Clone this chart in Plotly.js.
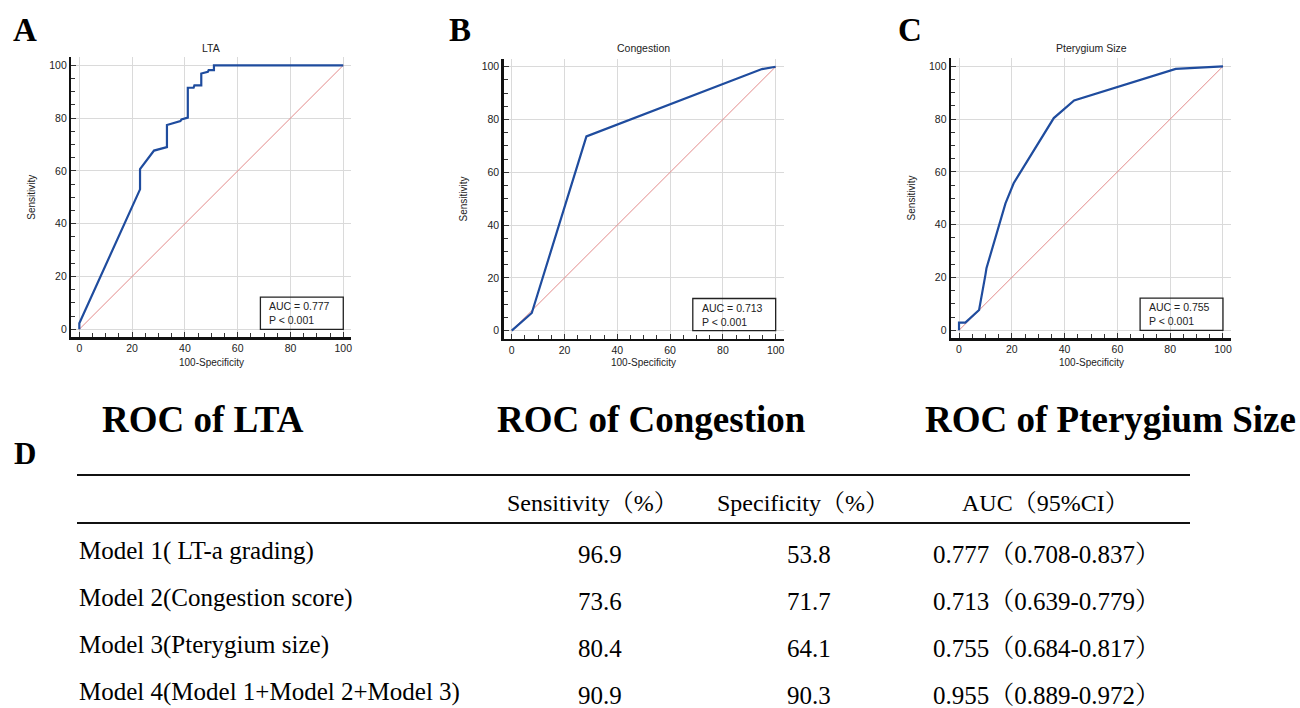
<!DOCTYPE html>
<html>
<head>
<meta charset="utf-8">
<script src="https://cdn.plot.ly/plotly-3.0.1.min.js"></script>
<style>html,body{margin:0;padding:0;background:#fff;}#chart{width:1300px;height:708px;}</style>
</head>
<body>
<div id="chart"></div>
<script>
// ---------- data ----------
const panelTitles = ['LTA', 'Congestion', 'Pterygium Size'];
const panelLetters = ['A', 'B', 'C'];
const captions = ['ROC of LTA', 'ROC of Congestion', 'ROC of Pterygium Size'];
const pText = 'P < 0.001';

// ROC curves: x = 100-Specificity, y = Sensitivity
const fprA = [0, 0, 23.0, 23.0, 28.3, 33.2, 33.2, 38.3, 38.7, 41.1, 41.1, 43.3, 43.6, 46.2, 46.2, 48.7, 49.0, 51.0, 51.0, 100];
const tprA = [0, 2.3, 53.0, 60.7, 67.7, 69.0, 77.4, 78.9, 79.5, 80.2, 91.5, 91.5, 92.4, 92.4, 96.9, 97.5, 98.2, 98.2, 100, 100];
const fprB = [0, 7.6, 28.3, 94.8, 100];
const tprB = [0, 6.7, 73.6, 99.1, 100];
const fprC = [0, 0, 2.4, 7.6, 10.0, 10.4, 17.6, 20.7, 35.9, 43.6, 82.1, 100];
const tprC = [0, 2.9, 2.9, 7.7, 21.0, 23.5, 48.1, 55.7, 80.4, 87.1, 99.0, 100];
const refLineX = [0, 100];
const refLineY = [0, 100];
const axisTicks = [0, 20, 40, 60, 80, 100];

// table
const tableHeaders = ['Sensitivity（%）', 'Specificity（%）', 'AUC（95%CI）'];
const models = ['Model 1( LT-a grading)', 'Model 2(Congestion score)', 'Model 3(Pterygium size)', 'Model 4(Model 1+Model 2+Model 3)'];
const sensitivity = [96.9, 73.6, 80.4, 90.9];
const specificity = [53.8, 71.7, 64.1, 90.3];
const aucValues = [0.777, 0.713, 0.755, 0.955];
const ciLow = [0.708, 0.639, 0.684, 0.889];
const ciHigh = [0.837, 0.779, 0.817, 0.972];

// ---------- layout helpers ----------
const W = 1300, H = 708;
const px = x => x / W;
const py = y => 1 - y / H;

const rocX = [fprA, fprB, fprC];
const rocY = [tprA, tprB, tprC];
const boxes = [
  {l: 71.4, r: 351.2, t: 57.4, b: 337.2},
  {l: 503.8, r: 783.6, t: 58.8, b: 338.6},
  {l: 951.1, r: 1230.9, t: 58.4, b: 338.2}
];
const letterX = [25, 460, 909.5];
const captionX = [202.5, 652, 1110];

const sansFont = 'Liberation Sans, Arial, sans-serif';
const serifFont = 'Liberation Serif, Times New Roman, Noto Serif CJK SC, Noto Sans CJK SC, serif';

const traces = [];
const layout = {
  width: W, height: H,
  margin: {l: 0, r: 0, t: 0, b: 0},
  paper_bgcolor: '#fff', plot_bgcolor: '#fff',
  showlegend: false,
  annotations: [],
  shapes: []
};

function axisCfg(domain, anchor) {
  return {
    domain: domain, anchor: anchor,
    range: [-3, 103], tickvals: axisTicks, ticktext: axisTicks.map(String),
    ticks: 'inside', ticklen: 5, tickwidth: 1, tickcolor: '#333',
    showline: true, linewidth: 2.5, linecolor: '#111',
    showgrid: true, gridcolor: '#dadada', gridwidth: 1,
    zeroline: true, zerolinecolor: '#dadada', zerolinewidth: 1,
    minor: {dtick: 5, tick0: 0, ticks: 'inside', ticklen: 4, tickwidth: 1, tickcolor: '#333', showgrid: false},
    tickfont: {family: sansFont, size: 10.5, color: '#222'},
    fixedrange: true
  };
}

for (let i = 0; i < 3; i++) {
  const s = i === 0 ? '' : String(i + 1);
  const b = boxes[i];
  const xa = 'x' + s, ya = 'y' + s;
  layout['xaxis' + s] = axisCfg([px(b.l), px(b.r)], ya);
  layout['yaxis' + s] = axisCfg([py(b.b), py(b.t)], xa);

  traces.push({x: refLineX, y: refLineY, xaxis: xa, yaxis: ya, mode: 'lines',
    line: {color: '#e38a8a', width: 1}, hoverinfo: 'skip'});
  traces.push({x: rocX[i], y: rocY[i], xaxis: xa, yaxis: ya, mode: 'lines',
    line: {color: '#1f4c9e', width: 2.2}, name: panelTitles[i]});

  // subplot title
  layout.annotations.push({text: panelTitles[i], xref: xa, yref: 'paper', x: 50, y: py(47.5),
    xanchor: 'center', yanchor: 'middle', showarrow: false,
    font: {family: sansFont, size: 10.5, color: '#222'}});
  // x axis title
  layout.annotations.push({text: '100-Specificity', xref: xa, yref: 'paper', x: 50, y: py(362),
    xanchor: 'center', yanchor: 'middle', showarrow: false,
    font: {family: sansFont, size: 10, color: '#222'}});
  // y axis title
  layout.annotations.push({text: 'Sensitivity', xref: 'paper', yref: ya, x: px(b.l - 40), y: 50,
    xanchor: 'center', yanchor: 'middle', textangle: -90, showarrow: false,
    font: {family: sansFont, size: 10, color: '#222'}});
  // AUC box
  layout.shapes.push({type: 'rect', xref: xa, yref: ya, x0: 68.6, x1: 100, y0: 0, y1: 12.2,
    line: {color: '#222', width: 1.3}, fillcolor: 'rgba(255,255,255,0)'});
  layout.annotations.push({text: 'AUC = ' + aucValues[i].toFixed(3) + '<br>' + pText.replace('<', '&lt;'),
    xref: xa, yref: ya, x: 71.2, y: 6.1, xanchor: 'left', yanchor: 'middle', align: 'left',
    showarrow: false, font: {family: sansFont, size: 10.5, color: '#222'}});
  // panel letter
  layout.annotations.push({text: '<b>' + panelLetters[i] + '</b>', xref: 'paper', yref: 'paper',
    x: px(letterX[i]), y: py(30), xanchor: 'center', yanchor: 'middle', showarrow: false,
    font: {family: serifFont, size: 33, color: '#000'}});
  // caption
  layout.annotations.push({text: '<b>' + captions[i] + '</b>', xref: 'paper', yref: 'paper',
    x: px(captionX[i]), y: py(419), xanchor: 'center', yanchor: 'middle', showarrow: false,
    font: {family: serifFont, size: 37, color: '#000'}});
}

// panel D letter
layout.annotations.push({text: '<b>D</b>', xref: 'paper', yref: 'paper', x: px(24.5), y: py(453),
  xanchor: 'center', yanchor: 'middle', showarrow: false, font: {family: serifFont, size: 31, color: '#000'}});

// table rules
[475, 523].forEach(yy => layout.shapes.push({type: 'line', xref: 'paper', yref: 'paper',
  x0: px(77), x1: px(1190), y0: py(yy), y1: py(yy), line: {color: '#111', width: 2}}));

const colX = [592, 803, 1045];
const valX = [600, 809, 1046];
tableHeaders.forEach((h, j) => layout.annotations.push({text: h, xref: 'paper', yref: 'paper',
  x: px(colX[j]), y: py(503), xanchor: 'center', yanchor: 'middle', showarrow: false,
  font: {family: serifFont, size: 24, color: '#000'}}));

const rowY = [551, 598, 645, 692];
models.forEach((m, r) => {
  const cells = [sensitivity[r].toFixed(1), specificity[r].toFixed(1),
    aucValues[r].toFixed(3) + '（' + ciLow[r].toFixed(3) + '-' + ciHigh[r].toFixed(3) + '）'];
  layout.annotations.push({text: m, xref: 'paper', yref: 'paper', x: px(77), y: py(rowY[r]),
    xanchor: 'left', yanchor: 'middle', showarrow: false, font: {family: serifFont, size: 25, color: '#000'}});
  cells.forEach((c, j) => layout.annotations.push({text: c, xref: 'paper', yref: 'paper',
    x: px(valX[j]), y: py(rowY[r] + 3), xanchor: 'center', yanchor: 'middle', showarrow: false,
    font: {family: serifFont, size: 25, color: '#000'}}));
});

Plotly.newPlot('chart', traces, layout, {staticPlot: true, displayModeBar: false});
</script>
</body>
</html>
